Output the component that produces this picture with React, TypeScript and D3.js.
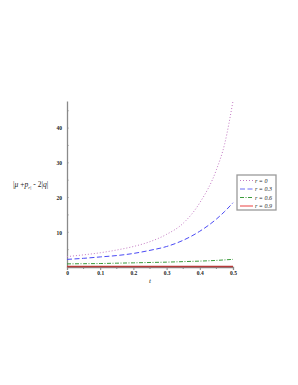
import React, { useEffect, useRef } from "react";
import * as d3 from "d3";

// t values (x) and |μ + p_r - 2|q|| for each r
const tValues = [0, 0.05, 0.1, 0.15, 0.2, 0.25, 0.3, 0.35, 0.4, 0.45, 0.475, 0.5];
const r0 = [3.0, 3.5, 4.1, 4.9, 5.9, 7.3, 9.4, 12.6, 18.5, 28.0, 35.5, 47.8];
const r03 = [2.2, 2.5, 2.9, 3.3, 3.9, 4.8, 5.9, 7.7, 10.3, 13.8, 16.0, 18.5];
const r06 = [0.9, 0.95, 1.0, 1.1, 1.2, 1.3, 1.4, 1.55, 1.7, 1.9, 2.05, 2.2];
const r09 = [0.12, 0.12, 0.12, 0.12, 0.13, 0.13, 0.13, 0.14, 0.14, 0.14, 0.15, 0.15];
const xTicks = [0, 0.1, 0.2, 0.3, 0.4, 0.5];
const yTicks = [10, 20, 30, 40];
const seriesNames = ["r = 0", "r = 0.3", "r = 0.6", "r = 0.9"];

const App: React.FC = () => {
  const svgRef = useRef<SVGSVGElement>(null);
  const width = 298;
  const height = 385;
  const margin = { top: 101, left: 67, right: 65, bottom: 118 };

  useEffect(() => {
    if (!svgRef.current) return;
    const svg = d3.select(svgRef.current);
    svg.selectAll("*").remove();

    const innerW = width - margin.left - margin.right;
    const innerH = height - margin.top - margin.bottom;

    const x = d3.scaleLinear().domain([0, 0.5]).range([0, innerW]);
    const y = d3.scaleLinear().domain([0, 47.8]).range([innerH, 0]);

    const g = svg
      .append("g")
      .attr("transform", `translate(${margin.left},${margin.top})`);

    const font = "'Liberation Serif', 'DejaVu Serif', serif";

    // x axis
    const xAxis = g
      .append("g")
      .attr("transform", `translate(0,${innerH})`)
      .call(d3.axisBottom(x).tickValues(xTicks).tickSize(3).tickFormat((d) => `${d}`));
    xAxis.select("path").attr("stroke", "#8a8a8a").attr("stroke-width", 1.3);
    xAxis.selectAll("line").attr("stroke", "#8a8a8a");
    xAxis
      .selectAll("text")
      .attr("fill", "#222")
      .attr("font-family", font)
      .attr("font-size", "5.5px")
      .attr("font-weight", "bold")
      .attr("y", 4);

    // minor x ticks
    g.append("g")
      .selectAll("line")
      .data(d3.range(0.05, 0.5, 0.1))
      .enter()
      .append("line")
      .attr("x1", (d) => x(d))
      .attr("x2", (d) => x(d))
      .attr("y1", innerH)
      .attr("y2", innerH + 2)
      .attr("stroke", "#8a8a8a");

    // y axis
    const yAxis = g
      .append("g")
      .call(d3.axisLeft(y).tickValues(yTicks).tickSize(0).tickPadding(5));
    yAxis.select("path").attr("stroke", "#8a8a8a").attr("stroke-width", 1.3);
    yAxis
      .selectAll("text")
      .attr("fill", "#222")
      .attr("font-family", font)
      .attr("font-size", "5.5px")
      .attr("font-weight", "bold");

    // minor y ticks
    g.append("g")
      .selectAll("line")
      .data(d3.range(5, 48, 5))
      .enter()
      .append("line")
      .attr("x1", 0)
      .attr("x2", 1.5)
      .attr("y1", (d) => y(d))
      .attr("y2", (d) => y(d))
      .attr("stroke", "#8a8a8a");

    // curves
    const series = [
      { values: r0, color: "#c47ac4", width: 1, dash: "1,2" },
      { values: r03, color: "#4a4af5", width: 1, dash: "5,2.5" },
      { values: r06, color: "#3a9a3a", width: 1, dash: "4,1.5,1,1.5" },
      { values: r09, color: "#b83a3a", width: 1.5, dash: null as string | null },
    ];

    const line = d3
      .line<number>()
      .x((_, i) => x(tValues[i]))
      .y((d) => y(d))
      .curve(d3.curveMonotoneX);

    series.forEach((s) => {
      g.append("path")
        .attr("d", line(s.values) || "")
        .attr("fill", "none")
        .attr("stroke", s.color)
        .attr("stroke-width", s.width)
        .attr("stroke-dasharray", s.dash);
    });

    // axis labels
    g.append("text")
      .attr("x", x(0.25))
      .attr("y", innerH + 16)
      .attr("text-anchor", "middle")
      .attr("font-family", font)
      .attr("font-style", "italic")
      .attr("font-size", "7px")
      .attr("fill", "#222")
      .text("t");

    const yl = svg
      .append("text")
      .attr("x", 13)
      .attr("y", 187)
      .attr("font-family", font)
      .attr("font-size", "7.5px")
      .attr("fill", "#222");
    yl.append("tspan").text("|");
    yl.append("tspan").attr("font-style", "italic").text("μ");
    yl.append("tspan").text(" +");
    yl.append("tspan").attr("font-style", "italic").text("p");
    yl.append("tspan").attr("font-style", "italic").attr("font-size", "5px").attr("dy", 1.5).text("r|");
    yl.append("tspan").attr("dy", -1.5).text(" - 2|");
    yl.append("tspan").attr("font-style", "italic").text("q");
    yl.append("tspan").text("|");

    // legend
    const legend = svg.append("g").attr("transform", "translate(237,175)");
    legend
      .append("rect")
      .attr("width", 39)
      .attr("height", 35)
      .attr("fill", "#fff")
      .attr("stroke", "#9a9a9a")
      .attr("stroke-width", 1.3);

    const legendColors = ["#c47ac4", "#6a6af5", "#3a9a3a", "#f5a0a0"];
    series.forEach((s, i) => {
      const item = legend.append("g").attr("transform", `translate(2,${5.5 + i * 8.5})`);
      item
        .append("line")
        .attr("x1", 1)
        .attr("x2", 14)
        .attr("stroke", legendColors[i])
        .attr("stroke-width", i === 3 ? 2 : 1)
        .attr("stroke-dasharray", s.dash);
      item
        .append("text")
        .attr("x", 16)
        .attr("y", 2)
        .attr("font-family", font)
        .attr("font-style", "italic")
        .attr("font-size", "6px")
        .attr("fill", "#222")
        .text(seriesNames[i]);
    });
  }, []);

  return (
    <div style={{ position: "absolute", left: 0, top: 0, background: "#fff" }}>
      <svg ref={svgRef} width={width} height={height} style={{ display: "block" }} />
    </div>
  );
};

export default App;
